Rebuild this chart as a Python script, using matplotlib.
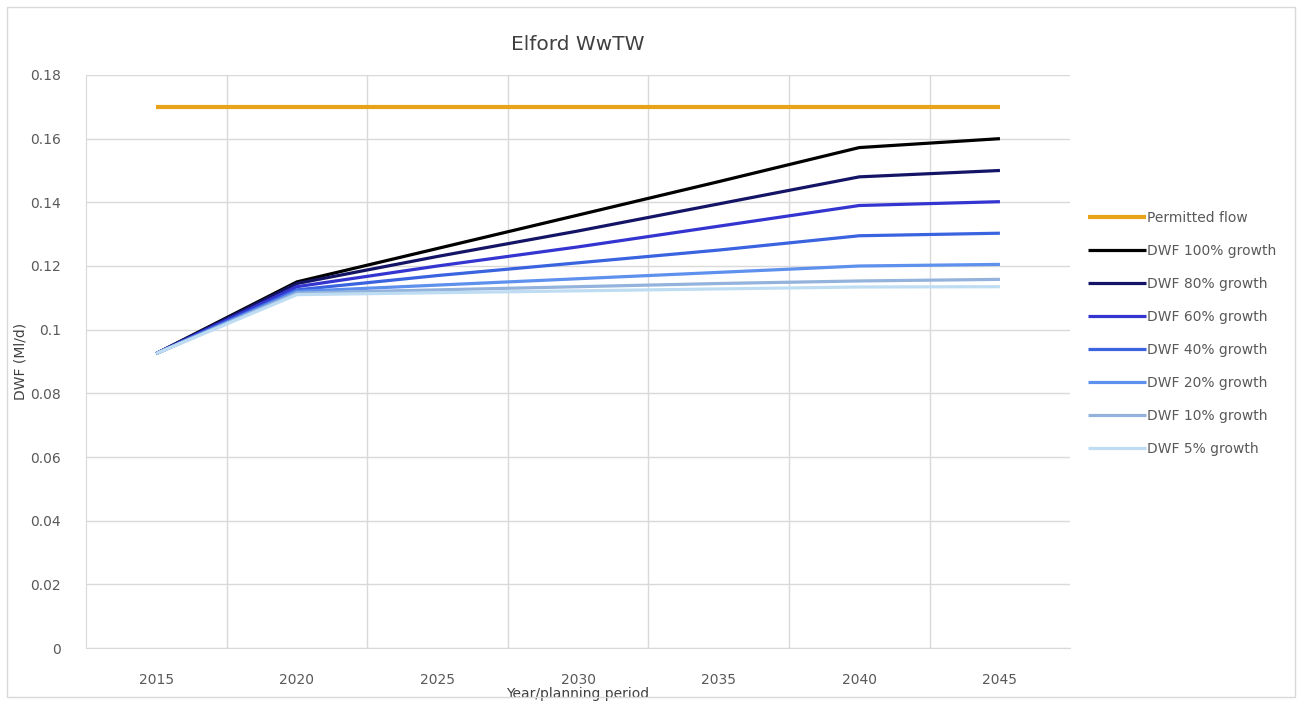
import matplotlib.pyplot as plt
from matplotlib.patches import Rectangle

# === Data ===
years = ['2015', '2020', '2025', '2030', '2035', '2040', '2045']

permitted = [0.170, 0.170, 0.170, 0.170, 0.170, 0.170, 0.170]
dwf_100 = [0.0925, 0.1150, 0.1255, 0.1360, 0.1465, 0.1572, 0.1600]
dwf_80 = [0.0925, 0.1145, 0.1230, 0.1310, 0.1395, 0.1480, 0.1500]
dwf_60 = [0.0925, 0.1135, 0.1200, 0.1260, 0.1325, 0.1390, 0.1402]
dwf_40 = [0.0925, 0.1125, 0.1170, 0.1210, 0.1250, 0.1295, 0.1303]
dwf_20 = [0.0925, 0.1120, 0.1140, 0.1160, 0.1180, 0.1200, 0.1205]
dwf_10 = [0.0925, 0.1115, 0.1125, 0.1135, 0.1145, 0.1153, 0.1158]
dwf_5 = [0.0925, 0.1110, 0.1116, 0.1122, 0.1128, 0.1134, 0.1135]

series = [
    ("Permitted flow", permitted, "#E9A31B", 3.0),
    ("DWF 100% growth", dwf_100, "#000000", 2.3),
    ("DWF 80% growth", dwf_80, "#141466", 2.3),
    ("DWF 60% growth", dwf_60, "#3434D0", 2.3),
    ("DWF 40% growth", dwf_40, "#3A63E0", 2.3),
    ("DWF 20% growth", dwf_20, "#5E90EE", 2.3),
    ("DWF 10% growth", dwf_10, "#93B2DC", 2.3),
    ("DWF 5% growth", dwf_5, "#BFDDF2", 2.3),
]

fig = plt.figure(figsize=(13.02, 7.04), dpi=100)
ax = fig.add_axes([0.066, 0.0795, 0.756, 0.814])

x = list(range(len(years)))
for label, vals, color, lw in series:
    ax.plot(x, vals, color=color, lw=lw, label=label, solid_capstyle='butt')

ax.set_xlim(-0.5, len(years) - 0.5)
ax.set_ylim(0, 0.18)
ax.set_xticks(x)
ax.set_xticklabels(years)
ax.set_yticks([0, 0.02, 0.04, 0.06, 0.08, 0.1, 0.12, 0.14, 0.16, 0.18])
ax.set_yticklabels(['0', '0.02', '0.04', '0.06', '0.08', '0.1', '0.12', '0.14', '0.16', '0.18'])

# gridlines between categories, like the Excel original
ax.set_xticks([i + 0.5 for i in range(len(years) - 1)], minor=True)
ax.grid(True, which='minor', axis='x', color='#D9D9D9', lw=1)
ax.grid(True, which='major', axis='y', color='#D9D9D9', lw=1)
ax.set_axisbelow(True)

ax.tick_params(axis='both', which='both', length=0, colors='#595959', labelsize=10)
ax.tick_params(axis='y', pad=18)
ax.tick_params(axis='x', pad=18)
for side in ['top', 'right']:
    ax.spines[side].set_visible(False)
ax.spines['left'].set_color('#D9D9D9')
ax.spines['bottom'].set_color('#D9D9D9')

ax.set_title("Elford WwTW", fontsize=14.5, color='#404040', pad=18)
ax.set_ylabel("DWF (Ml/d)", fontsize=10, color='#404040', labelpad=2)
ax.set_xlabel("Year/planning period", fontsize=10, color='#404040', labelpad=0)

leg = ax.legend(loc='upper left', bbox_to_anchor=(1.005, 0.785), frameon=False,
                fontsize=10, labelspacing=1.37, handlelength=4.2, handletextpad=0.1)
for t in leg.get_texts():
    t.set_color('#595959')

# light frame around the whole chart
fig.patches.append(Rectangle((0.005, 0.01), 0.99, 0.98, transform=fig.transFigure,
                             fill=False, edgecolor='#D9D9D9', lw=1))

fig.savefig("out.png", dpi=100)
